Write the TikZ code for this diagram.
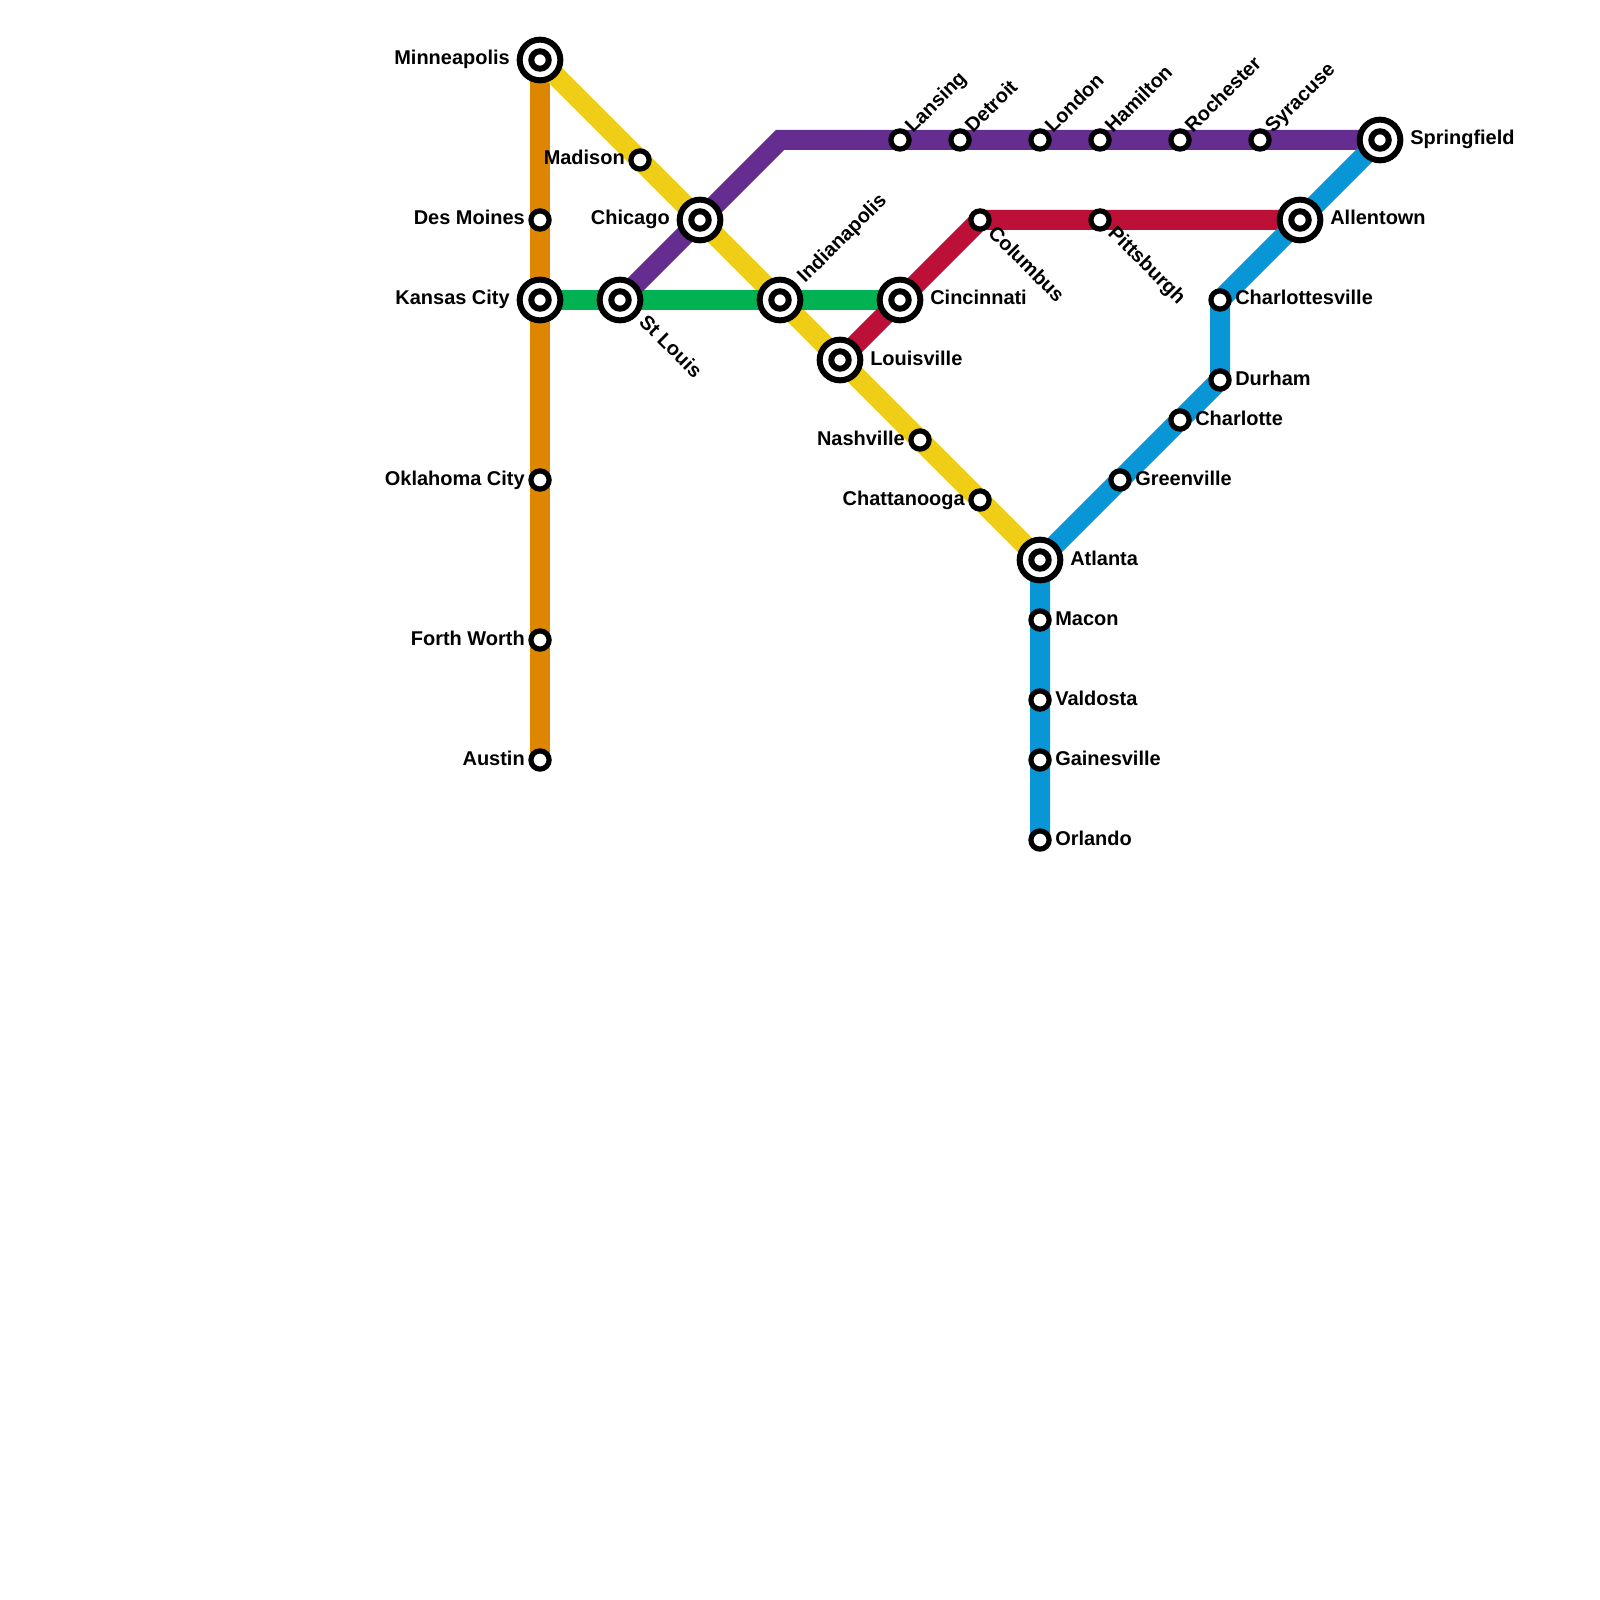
\documentclass[tikz,border=0pt]{standalone}
\usepackage{fontspec}
\setmainfont{Liberation Sans}
\usetikzlibrary{backgrounds}
\definecolor{Orange}{HTML}{DF8600}
\definecolor{Yellow}{HTML}{F0CE15}
\definecolor{Purple}{HTML}{662D91}
\definecolor{Green}{HTML}{00B251}
\definecolor{Crimson}{HTML}{BD1038}
\definecolor{Azure}{HTML}{0896D7}
\tikzset{
  stn/.style={circle, draw=black, fill=white, line width=1.3mm, inner sep=0pt, minimum size=4.55mm},
  hub/.style={circle, draw=black, fill=white, line width=1.5mm, inner sep=0pt, minimum size=10.17mm,
    path picture={\draw[line width=1.5mm] (path picture bounding box.center) circle (2.18mm);}},
  lbl/.style={inner sep=0pt, font=\fontsize{14.2pt}{16pt}\selectfont\bfseries},
  lblR/.style={lbl, anchor=base west},
  lblL/.style={lbl, anchor=base east},
  lblUp/.style={lbl, anchor=base west, rotate=45},
  lblDn/.style={lbl, anchor=base west, rotate=-45},
  metro/.style={line width=5mm}
}
\begin{document}
\begin{tikzpicture}[x=0.25mm, y=-0.25mm]
  \useasboundingbox (0,0) rectangle (1600,1600);
  % stations
  \node[hub] (minneapolis) at (540,60) {};
  \node[stn] (desmoines) at (540,220) {};
  \node[hub] (kansascity) at (540,300) {};
  \node[stn] (oklahoma) at (540,480) {};
  \node[stn] (fortworth) at (540,640) {};
  \node[stn] (austin) at (540,760) {};
  \node[hub] (stlouis) at (620,300) {};
  \node[hub] (indianapolis) at (780,300) {};
  \node[hub] (cincinnati) at (900,300) {};
  \node[stn] (madison) at (640,160) {};
  \node[hub] (chicago) at (700,220) {};
  \node[hub] (louisville) at (840,360) {};
  \node[stn] (nashville) at (920,440) {};
  \node[stn] (chattanooga) at (980,500) {};
  \node[hub] (atlanta) at (1040,560) {};
  \node[stn] (macon) at (1040,620) {};
  \node[stn] (valdosta) at (1040,700) {};
  \node[stn] (gainesville) at (1040,760) {};
  \node[stn] (orlando) at (1040,840) {};
  \node[stn] (greenville) at (1120,480) {};
  \node[stn] (charlotte) at (1180,420) {};
  \node[stn] (durham) at (1220,380) {};
  \node[stn] (charlottesville) at (1220,300) {};
  \node[hub] (allentown) at (1300,220) {};
  \node[hub] (springfield) at (1380,140) {};
  \coordinate (bend) at (780,140);
  \node[stn] (lansing) at (900,140) {};
  \node[stn] (detroit) at (960,140) {};
  \node[stn] (london) at (1040,140) {};
  \node[stn] (hamilton) at (1100,140) {};
  \node[stn] (rochester) at (1180,140) {};
  \node[stn] (syracuse) at (1260,140) {};
  \node[stn] (columbus) at (980,220) {};
  \node[stn] (pittsburgh) at (1100,220) {};
  % lines
  \begin{scope}[on background layer]
    \draw[metro, Orange] (minneapolis.center) -- (desmoines.center) -- (kansascity.center) -- (oklahoma.center) -- (fortworth.center) -- (austin.center);
    \draw[metro, Yellow] (minneapolis.center) -- (madison.center) -- (chicago.center) -- (indianapolis.center) -- (louisville.center) -- (nashville.center) -- (chattanooga.center) -- (atlanta.center);
    \draw[metro, Green] (kansascity.center) -- (stlouis.center) -- (indianapolis.center) -- (cincinnati.center);
    \draw[metro, Purple] (stlouis.center) -- (chicago.center) -- (bend) -- (lansing.center) -- (detroit.center) -- (london.center) -- (hamilton.center) -- (rochester.center) -- (syracuse.center) -- (springfield.center);
    \draw[metro, Crimson] (louisville.center) -- (cincinnati.center) -- (columbus.center) -- (pittsburgh.center) -- (allentown.center);
    \draw[metro, Azure] (orlando.center) -- (gainesville.center) -- (valdosta.center) -- (macon.center) -- (atlanta.center) -- (greenville.center) -- (charlotte.center) -- (durham.center) -- (charlottesville.center) -- (allentown.center) -- (springfield.center);
  \end{scope}
  % labels
  \node[lblL] (minneapolis-t) at (510,65) {Minneapolis};
  \node[lblL] (desmoines-t) at (525,225) {Des Moines};
  \node[lblL] (kansascity-t) at (510,305) {Kansas City};
  \node[lblL] (oklahoma-t) at (525,485) {Oklahoma City};
  \node[lblL] (fortworth-t) at (525,645) {Forth Worth};
  \node[lblL] (austin-t) at (525,765) {Austin};
  \node[lblL] (madison-t) at (625,165) {Madison};
  \node[lblL] (chicago-t) at (670,225) {Chicago};
  \node[lblL] (nashville-t) at (905,445) {Nashville};
  \node[lblL] (chattanooga-t) at (965,505) {Chattanooga};
  \node[lblR] (cincinnati-t) at (930,305) {Cincinnati};
  \node[lblR] (louisville-t) at (870,365) {Louisville};
  \node[lblR] (atlanta-t) at (1070,565) {Atlanta};
  \node[lblR] (macon-t) at (1055,625) {Macon};
  \node[lblR] (valdosta-t) at (1055,705) {Valdosta};
  \node[lblR] (gainesville-t) at (1055,765) {Gainesville};
  \node[lblR] (orlando-t) at (1055,845) {Orlando};
  \node[lblR] (greenville-t) at (1135,485) {Greenville};
  \node[lblR] (charlotte-t) at (1195,425) {Charlotte};
  \node[lblR] (durham-t) at (1235,385) {Durham};
  \node[lblR] (charlottesville-t) at (1235,305) {Charlottesville};
  \node[lblR] (allentown-t) at (1330,225) {Allentown};
  \node[lblR] (springfield-t) at (1410,145) {Springfield};
  \node[lblUp] (lansing-t) at (913,134) {Lansing};
  \node[lblUp] (detroit-t) at (973,134) {Detroit};
  \node[lblUp] (london-t) at (1053,134) {London};
  \node[lblUp] (hamilton-t) at (1113,134) {Hamilton};
  \node[lblUp] (rochester-t) at (1193,134) {Rochester};
  \node[lblUp] (syracuse-t) at (1273,134) {Syracuse};
  \node[lblUp] (indianapolis-t) at (805,284) {Indianapolis};
  \node[lblDn] (stlouis-t) at (638,323) {St Louis};
  \node[lblDn] (columbus-t) at (987,234) {Columbus};
  \node[lblDn] (pittsburgh-t) at (1107,234) {Pittsburgh};
\end{tikzpicture}
\end{document}
